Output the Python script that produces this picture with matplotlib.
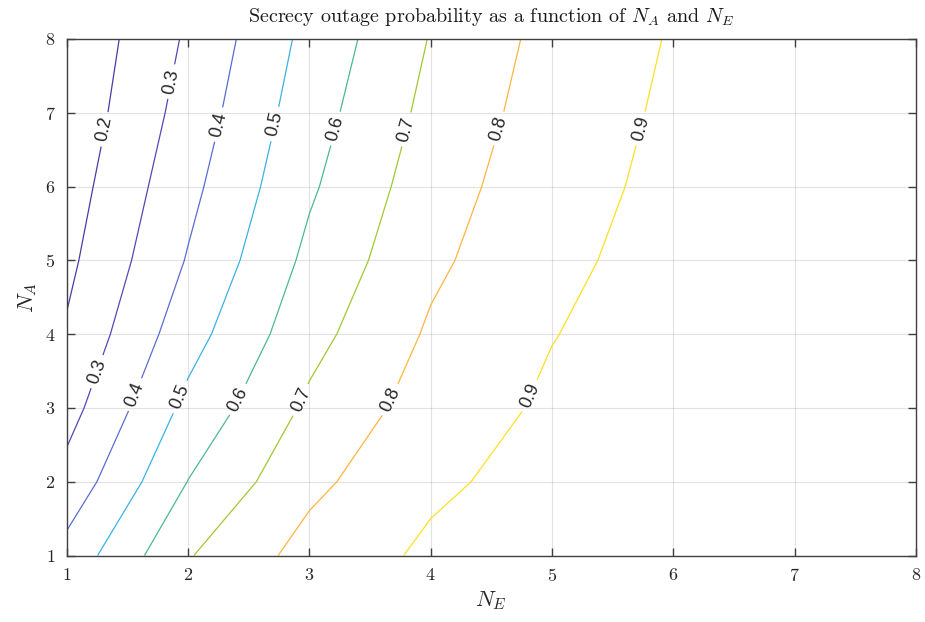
import numpy as np
import matplotlib
matplotlib.use("Agg")
import matplotlib.pyplot as plt
from matplotlib.colors import ListedColormap

plt.rcParams['font.family'] = 'serif'
plt.rcParams['font.serif'] = ['cmr10']
plt.rcParams['mathtext.fontset'] = 'cm'
plt.rcParams['axes.formatter.use_mathtext'] = True

# grid of the simulation: N_E along x, N_A along y
n_e = [1, 2, 3, 4, 5, 6, 7, 8]
n_a = [1, 2, 3, 4, 5, 6, 7, 8]

# secrecy outage probability, one row per N_A
p_na1 = [0.434, 0.693, 0.837, 0.918, 0.960, 0.980, 0.990, 0.995]
p_na2 = [0.333, 0.602, 0.776, 0.882, 0.936, 0.966, 0.982, 0.991]
p_na3 = [0.262, 0.527, 0.719, 0.845, 0.916, 0.955, 0.976, 0.988]
p_na4 = [0.210, 0.460, 0.667, 0.813, 0.897, 0.946, 0.971, 0.985]
p_na5 = [0.177, 0.407, 0.624, 0.780, 0.880, 0.933, 0.963, 0.980]
p_na6 = [0.152, 0.372, 0.586, 0.755, 0.862, 0.925, 0.958, 0.977]
p_na7 = [0.128, 0.340, 0.557, 0.728, 0.848, 0.916, 0.953, 0.974]
p_na8 = [0.113, 0.314, 0.530, 0.705, 0.833, 0.907, 0.948, 0.971]

levels = [0.2, 0.3, 0.4, 0.5, 0.6, 0.7, 0.8, 0.9]

# line colours as they look in the original (parula-ish)
line_cmap = ListedColormap(['#4a3aa8', '#5646b4', '#5a6cd2', '#3ab2e2',
                            '#4cb890', '#a0c832', '#ffb440', '#ffe020'])

X, Y = np.meshgrid(n_e, n_a)
Z = np.array([p_na1, p_na2, p_na3, p_na4, p_na5, p_na6, p_na7, p_na8])

fig = plt.figure(figsize=(9.25, 6.22), dpi=100)
ax = fig.add_axes([0.0721, 0.1069, 0.9182, 0.8304])

cs = ax.contour(X, Y, Z, levels=levels, cmap=line_cmap, vmin=0.2, vmax=0.9,
                linewidths=0.9)

# where the labels sit on the lines
label_spots = [(1.33, 6.77), (1.87, 7.42), (2.28, 6.83), (2.76, 6.83),
               (3.25, 6.77), (3.81, 6.77), (4.60, 6.77), (5.77, 6.77),
               (1.27, 3.48), (1.58, 3.17), (1.96, 3.13), (2.43, 3.10),
               (2.94, 3.10), (3.68, 3.10), (4.81, 3.17)]
lbls = ax.clabel(cs, fmt='%.1f', fontsize=13, inline=True, inline_spacing=6,
                 manual=label_spots, colors='#262626')
for t in lbls:
    t.set_fontfamily('Liberation Sans')

ax.set_xlim(1, 8)
ax.set_ylim(1, 8)
ax.set_xticks(n_e)
ax.set_yticks(n_a)
ax.grid(True, color='#262626', alpha=0.13, linewidth=0.8)
ax.tick_params(direction='in', top=True, right=True, length=6, width=1,
               color='#404040', labelsize=13, labelcolor='#262626', pad=8)
for s in ax.spines.values():
    s.set_color('#404040')
    s.set_linewidth(1.0)

ax.set_title(r'Secrecy outage probability as a function of $N_A$ and $N_E$',
             fontsize=14.5, color='#1a1a1a', pad=12)
ax.set_xlabel(r'$N_E$', fontsize=16, color='#262626', labelpad=4)
ax.set_ylabel(r'$N_A$', fontsize=16, color='#262626', labelpad=4)

fig.savefig('out.png', dpi=100)
